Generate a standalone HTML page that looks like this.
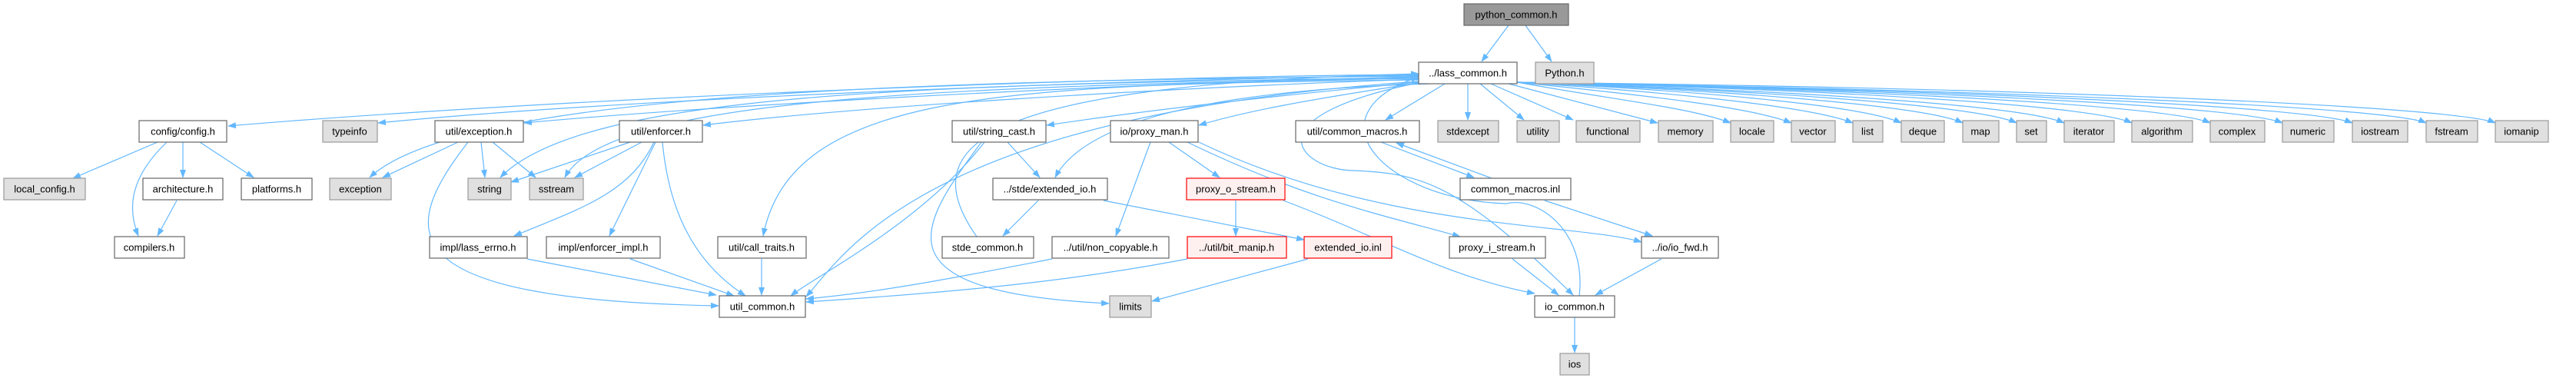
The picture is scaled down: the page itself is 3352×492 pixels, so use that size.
<!DOCTYPE html>
<html><head><meta charset="utf-8"><style>
html,body{margin:0;padding:0;background:#fff;}
svg{display:block}
text{font-family:"Liberation Sans",sans-serif;font-size:13px;fill:#000;text-anchor:middle;dominant-baseline:central}
.w{fill:#fff;stroke:#666;stroke-width:1.2}
.g{fill:#e0e0e0;stroke:#999;stroke-width:1.2}
.r{fill:#fff0f0;stroke:#f00;stroke-width:1.2}
.p{fill:#999;stroke:#666;stroke-width:1.2}
path.e{fill:none;stroke:#63b8ff;stroke-width:1.2;marker-end:url(#a)}
</style></head><body>
<svg width="3352" height="492" viewBox="0 0 3352 492" xmlns="http://www.w3.org/2000/svg">
<defs><marker id="a" markerWidth="11" markerHeight="8" refX="10" refY="4" orient="auto" markerUnits="userSpaceOnUse"><path d="M0,0 L11,4 L0,8 z" fill="#63b8ff"/></marker></defs>
<g>
<!-- edges -->
<path class="e" d="M1963,33 L1928,80"/>
<path class="e" d="M1985,33 L2019,80"/>
<path class="e" d="M1846,97 C1400,100 700,130 297,164"/>
<path class="e" d="M1846,98 C1400,105 800,130 492,160"/>
<path class="e" d="M1846,99 C1200,105 600,120 481,231"/>
<path class="e" d="M1846,100 C1400,110 900,140 682,160"/>
<path class="e" d="M1846,101 C1200,110 760,120 651,231"/>
<path class="e" d="M1846,102 C1200,112 790,130 735,231"/>
<path class="e" d="M1846,103 C1500,115 1100,140 915,163"/>
<path class="e" d="M1846,104 C1300,110 1030,120 993,307"/>
<path class="e" d="M1846,106 C1200,150 1100,330 1049,386"/>
<path class="e" d="M1846,107 C1600,130 1450,150 1362,163"/>
<path class="e" d="M1846,108 C1700,130 1620,145 1560,163"/>
<path class="e" d="M1860,109 C1500,120 1400,180 1373,231"/>
<path class="e" d="M1880,109 L1803,156"/>
<path class="e" d="M1910,109 L1910,156"/>
<path class="e" d="M1926,109 L1983,156"/>
<path class="e" d="M1940,109 L2047,156"/>
<path class="e" d="M1963,109 L2157,160"/>
<path class="e" d="M1974,107 C2100,130 2200,140 2252,160"/>
<path class="e" d="M1974,107 C2150,125 2280,140 2331,160"/>
<path class="e" d="M1974,107 C2200,122 2360,140 2411,160"/>
<path class="e" d="M1974,107 C2250,120 2430,140 2474,160"/>
<path class="e" d="M1974,107 C2300,120 2510,140 2554,160"/>
<path class="e" d="M1974,107 C2350,120 2580,140 2624,160"/>
<path class="e" d="M1974,107 C2400,120 2640,140 2686,160"/>
<path class="e" d="M1974,107 C2450,118 2730,140 2774,160"/>
<path class="e" d="M1974,107 C2500,118 2830,140 2876,160"/>
<path class="e" d="M1974,107 C2550,118 2920,140 2970,160"/>
<path class="e" d="M1974,107 C2600,118 3010,140 3061,160"/>
<path class="e" d="M1974,107 C2650,118 3110,140 3157,160"/>
<path class="e" d="M1974,107 C2700,115 3200,140 3247,160"/>
<path class="e" d="M1860,105 C1620,150 1690,220 1760,222 C1850,225 1900,240 2047,384"/>
<path class="e" d="M2055,385 C2065,300 2000,255 1960,265 C1800,260 1700,150 1846,100"/>
<path class="e" d="M1271,308 C1180,180 1300,110 1846,96"/>
<!-- left cluster -->
<path class="e" d="M205,185 L95,232"/>
<path class="e" d="M217,185 C170,230 165,270 180,307"/>
<path class="e" d="M238,185 L238,231"/>
<path class="e" d="M260,185 L330,231"/>
<path class="e" d="M230,261 L205,307"/>
<path class="e" d="M596,185 L498,231"/>
<path class="e" d="M626,185 L631,231"/>
<path class="e" d="M641,185 L697,231"/>
<path class="e" d="M609,185 C520,300 500,390 935,398"/>
<path class="e" d="M820,185 L665,237"/>
<path class="e" d="M835,185 L748,231"/>
<path class="e" d="M851,185 C820,250 760,270 669,307"/>
<path class="e" d="M853,185 L793,307"/>
<path class="e" d="M862,185 C870,270 900,340 970,385"/>
<path class="e" d="M686,337 L932,384"/>
<path class="e" d="M820,337 L955,385"/>
<path class="e" d="M991,337 L991,384"/>
<!-- middle -->
<path class="e" d="M1311,185 L1353,231"/>
<path class="e" d="M1281,185 C1200,290 1060,360 1029,385"/>
<path class="e" d="M1277,185 C1200,290 1130,380 1443,395"/>
<path class="e" d="M1351,261 L1305,307"/>
<path class="e" d="M1436,261 L1697,312"/>
<path class="e" d="M1369,337 C1250,360 1150,380 1049,389"/>
<path class="e" d="M1545,337 C1400,365 1250,380 1049,393"/>
<path class="e" d="M1497,185 L1452,307"/>
<path class="e" d="M1521,185 L1587,231"/>
<path class="e" d="M1545,185 C1700,260 1800,280 1900,308"/>
<path class="e" d="M1560,185 C1800,300 2050,290 2136,315"/>
<path class="e" d="M1608,261 L1608,307"/>
<path class="e" d="M1670,261 C1800,310 1880,360 1997,382"/>
<path class="e" d="M1702,337 L1499,392"/>
<path class="e" d="M1968,337 L2028,384"/>
<path class="e" d="M2162,337 L2076,384"/>
<path class="e" d="M2049,413 L2049,459"/>
<path class="e" d="M1797,185 L1918,231"/>
<path class="e" d="M1941,232 L1817,186"/>
<path class="e" d="M2010,261 L2150,307"/>
</g>
<!-- nodes -->
<rect class="p" x="1905" y="5" width="136" height="28"/><text x="1973" y="19">python_common.h</text>
<rect class="w" x="1846" y="81" width="128" height="28"/><text x="1910" y="95">../lass_common.h</text>
<rect class="g" x="1998" y="81" width="76" height="28"/><text x="2036" y="95">Python.h</text>

<rect class="w" x="181" y="157" width="114" height="28"/><text x="238" y="171">config/config.h</text>
<rect class="g" x="420" y="157" width="71" height="28"/><text x="455" y="171">typeinfo</text>
<rect class="w" x="566" y="157" width="115" height="28"/><text x="623" y="171">util/exception.h</text>
<rect class="w" x="806" y="157" width="108" height="28"/><text x="860" y="171">util/enforcer.h</text>
<rect class="w" x="1239" y="157" width="122" height="28"/><text x="1300" y="171">util/string_cast.h</text>
<rect class="w" x="1445" y="157" width="114" height="28"/><text x="1502" y="171">io/proxy_man.h</text>
<rect class="w" x="1686" y="157" width="161" height="28"/><text x="1766" y="171">util/common_macros.h</text>
<rect class="g" x="1871" y="157" width="79" height="28"/><text x="1910" y="171">stdexcept</text>
<rect class="g" x="1974" y="157" width="55" height="28"/><text x="2001" y="171">utility</text>
<rect class="g" x="2051" y="157" width="83" height="28"/><text x="2092" y="171">functional</text>
<rect class="g" x="2158" y="157" width="71" height="28"/><text x="2193" y="171">memory</text>
<rect class="g" x="2252" y="157" width="56" height="28"/><text x="2280" y="171">locale</text>
<rect class="g" x="2331" y="157" width="57" height="28"/><text x="2359" y="171">vector</text>
<rect class="g" x="2411" y="157" width="39" height="28"/><text x="2430" y="171">list</text>
<rect class="g" x="2474" y="157" width="56" height="28"/><text x="2502" y="171">deque</text>
<rect class="g" x="2554" y="157" width="47" height="28"/><text x="2577" y="171">map</text>
<rect class="g" x="2624" y="157" width="39" height="28"/><text x="2643" y="171">set</text>
<rect class="g" x="2686" y="157" width="65" height="28"/><text x="2718" y="171">iterator</text>
<rect class="g" x="2774" y="157" width="79" height="28"/><text x="2813" y="171">algorithm</text>
<rect class="g" x="2876" y="157" width="71" height="28"/><text x="2911" y="171">complex</text>
<rect class="g" x="2970" y="157" width="67" height="28"/><text x="3003" y="171">numeric</text>
<rect class="g" x="3061" y="157" width="72" height="28"/><text x="3097" y="171">iostream</text>
<rect class="g" x="3157" y="157" width="67" height="28"/><text x="3190" y="171">fstream</text>
<rect class="g" x="3247" y="157" width="69" height="28"/><text x="3281" y="171">iomanip</text>

<rect class="g" x="5" y="232" width="106" height="28"/><text x="58" y="246">local_config.h</text>
<rect class="w" x="186" y="232" width="104" height="28"/><text x="238" y="246">architecture.h</text>
<rect class="w" x="314" y="232" width="92" height="28"/><text x="360" y="246">platforms.h</text>
<rect class="g" x="429" y="232" width="80" height="28"/><text x="469" y="246">exception</text>
<rect class="g" x="609" y="232" width="56" height="28"/><text x="637" y="246">string</text>
<rect class="g" x="689" y="232" width="70" height="28"/><text x="724" y="246">sstream</text>
<rect class="w" x="1292" y="232" width="149" height="28"/><text x="1366" y="246">../stde/extended_io.h</text>
<rect class="r" x="1544" y="232" width="128" height="28"/><text x="1608" y="246">proxy_o_stream.h</text>
<rect class="w" x="1900" y="232" width="144" height="28"/><text x="1972" y="246">common_macros.inl</text>

<rect class="w" x="149" y="308" width="91" height="28"/><text x="194" y="322">compilers.h</text>
<rect class="w" x="559" y="308" width="127" height="28"/><text x="622" y="322">impl/lass_errno.h</text>
<rect class="w" x="711" y="308" width="148" height="28"/><text x="785" y="322">impl/enforcer_impl.h</text>
<rect class="w" x="934" y="308" width="115" height="28"/><text x="991" y="322">util/call_traits.h</text>
<rect class="w" x="1226" y="308" width="119" height="28"/><text x="1285" y="322">stde_common.h</text>
<rect class="w" x="1369" y="308" width="152" height="28"/><text x="1445" y="322">../util/non_copyable.h</text>
<rect class="r" x="1545" y="308" width="129" height="28"/><text x="1609" y="322">../util/bit_manip.h</text>
<rect class="r" x="1697" y="308" width="114" height="28"/><text x="1754" y="322">extended_io.inl</text>
<rect class="w" x="1886" y="308" width="125" height="28"/><text x="1948" y="322">proxy_i_stream.h</text>
<rect class="w" x="2136" y="308" width="100" height="28"/><text x="2186" y="322">../io/io_fwd.h</text>

<rect class="w" x="936" y="385" width="112" height="28"/><text x="992" y="399">util_common.h</text>
<rect class="g" x="1444" y="385" width="54" height="28"/><text x="1471" y="399">limits</text>
<rect class="w" x="1997" y="385" width="104" height="28"/><text x="2049" y="399">io_common.h</text>
<rect class="g" x="2030" y="460" width="38" height="28"/><text x="2049" y="474">ios</text>
</svg>
</body></html>
